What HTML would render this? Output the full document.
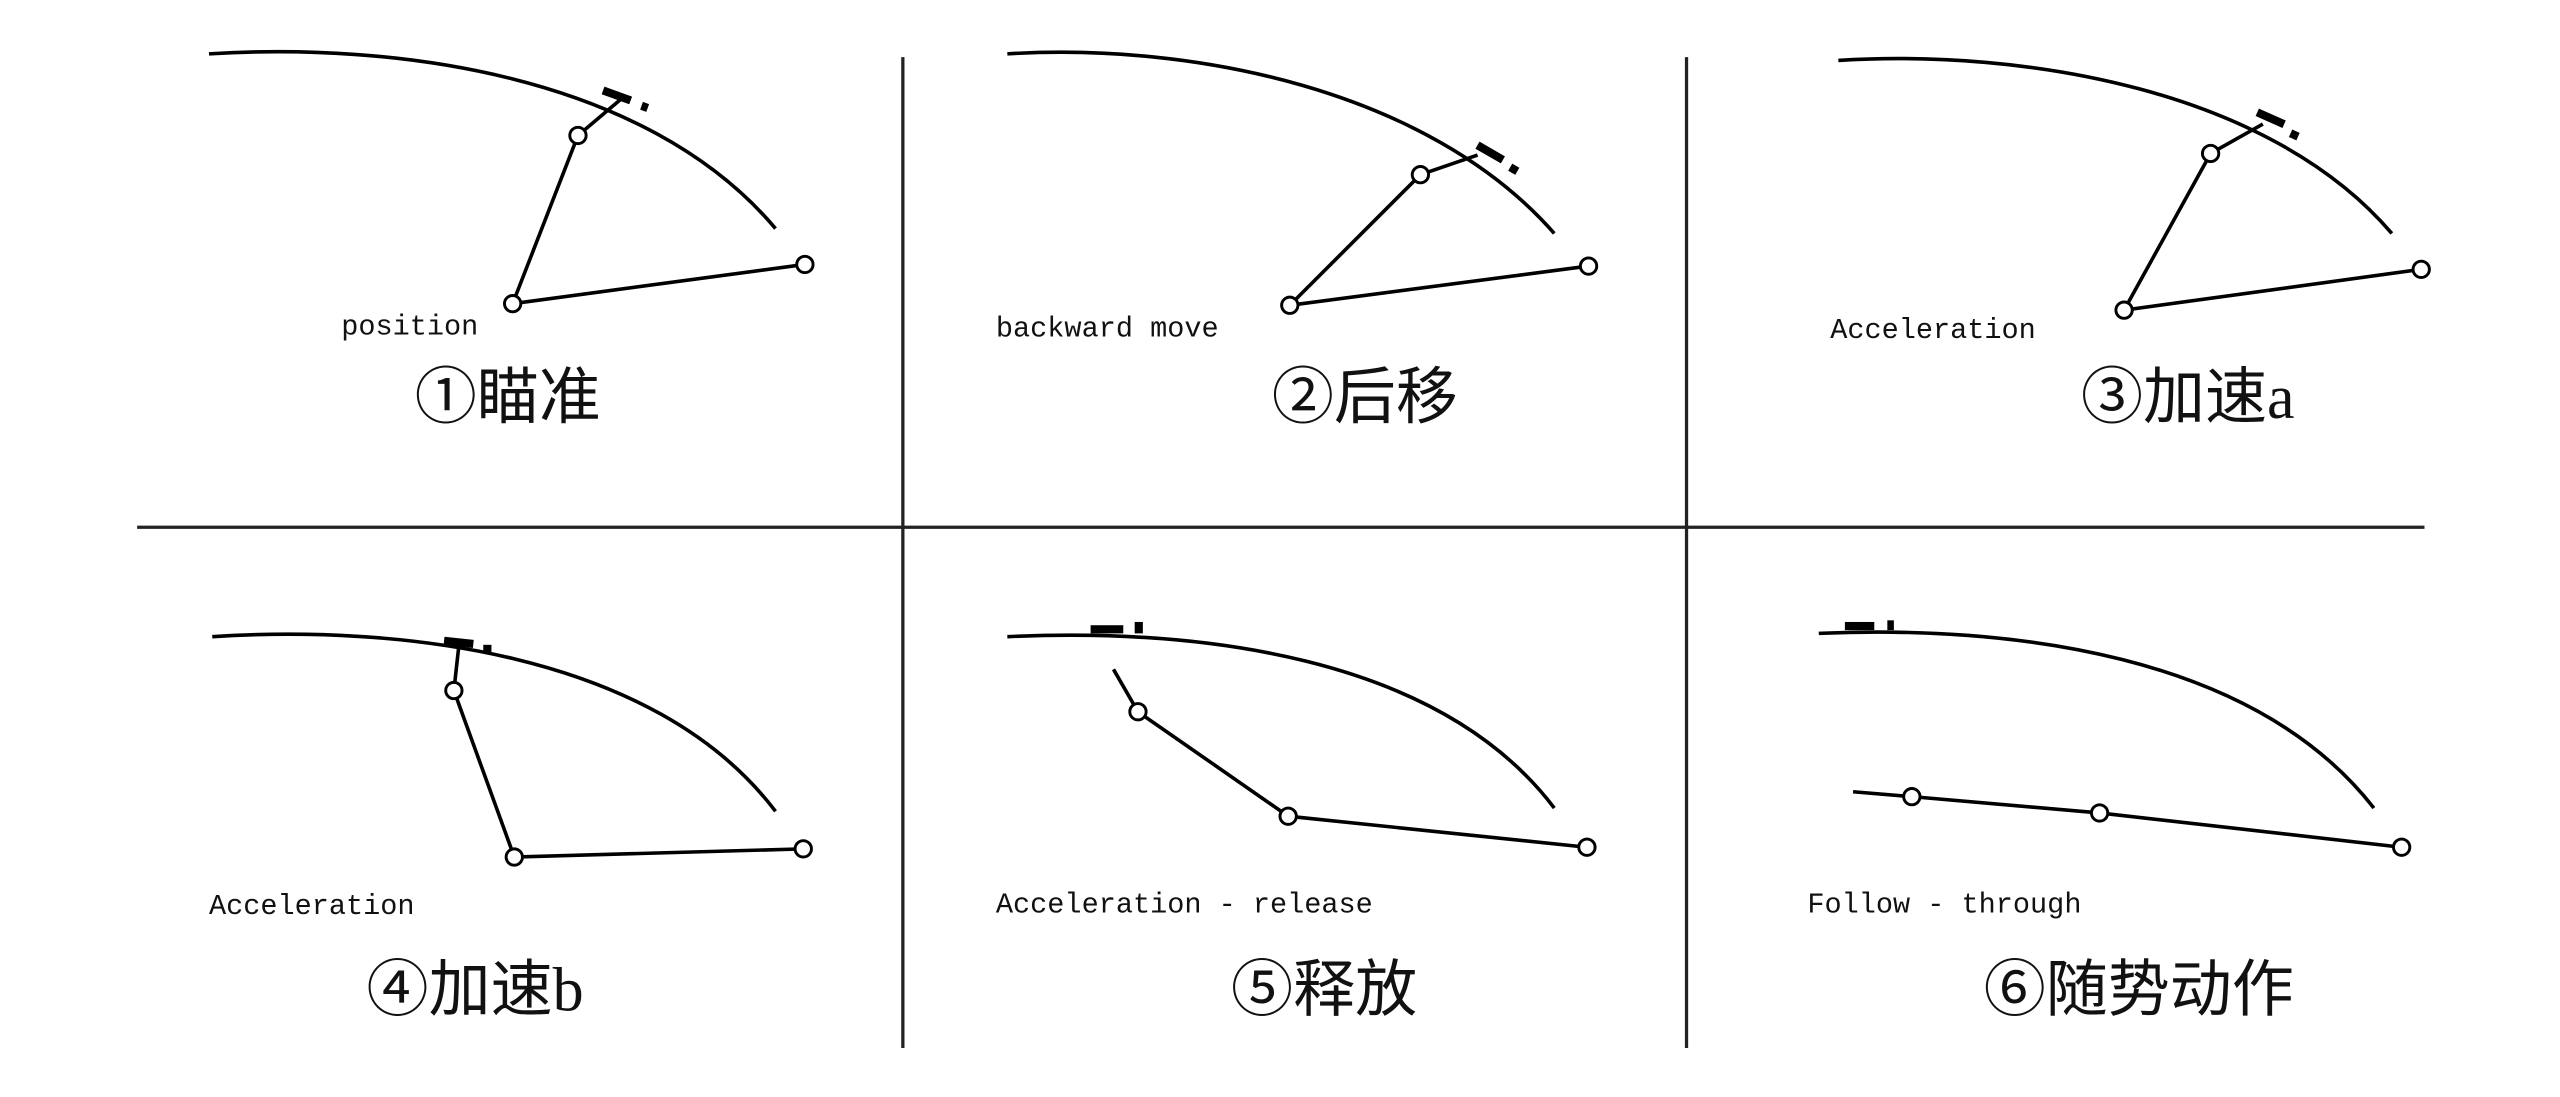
<!DOCTYPE html>
<html><head><meta charset="utf-8"><style>
html,body{margin:0;padding:0;background:#fff;}
svg{display:block;}
.m{font-family:"Liberation Mono","DejaVu Sans Mono",monospace;font-size:17.5px;fill:#111;}
.t{font-family:"Liberation Serif","Noto Sans CJK SC",serif;font-size:38px;fill:#111;text-anchor:middle;}
</style></head><body>
<svg width="2560" height="1097" viewBox="0 0 1568 672" preserveAspectRatio="none" xmlns="http://www.w3.org/2000/svg">
<rect width="1568" height="672" fill="#fff"/>
<g stroke="#222" stroke-width="2" fill="none">
<line x1="84" y1="323" x2="1485" y2="323"/>
<line x1="553" y1="35" x2="553" y2="642"/>
<line x1="1033" y1="35" x2="1033" y2="642"/>
</g>
<g stroke="#000" stroke-width="2.2" fill="none">
<path d="M128,33 C240,26 395,45 475,140"/>
<polyline points="380,61 354,83 314,186 493,162"/>
<path d="M617,33 C730,26 875,55 952,143"/>
<polyline points="905,95 870,107 790,187 973,163"/>
<path d="M1126,37 C1240,30 1390,55 1465,143"/>
<polyline points="1386,76 1354,94 1301,190 1483,165"/>
<path d="M130,390 C240,383 400,398 475,497"/>
<polyline points="281,396 278,423 315,525 492,520"/>
<path d="M617,390 C730,385 880,400 952,495"/>
<polyline points="682,410 697,436 789,500 972,519"/>
<path d="M1114,388 C1230,383 1380,400 1454,495"/>
<polyline points="1135,485 1171,488 1286,498 1471,519"/>
</g>
<g fill="#000">
<rect x="369" y="56" width="18" height="5" transform="rotate(20 378 58)"/>
<rect x="393" y="63" width="4" height="5" transform="rotate(20 395 65)"/>
<rect x="904" y="91" width="18" height="5" transform="rotate(30 913 93)"/>
<rect x="925" y="101" width="5" height="5" transform="rotate(30 927 103)"/>
<rect x="1382" y="70" width="18" height="5" transform="rotate(24 1391 72)"/>
<rect x="1403" y="80" width="5" height="5" transform="rotate(24 1405 82)"/>
<rect x="272" y="391" width="18" height="5" transform="rotate(6 281 393)"/>
<rect x="296" y="395" width="5" height="5"/>
<rect x="668" y="383" width="20" height="5"/>
<rect x="695" y="381" width="5" height="7"/>
<rect x="1130" y="381" width="18" height="5"/>
<rect x="1156" y="380" width="4" height="6"/>
</g>
<g fill="#fff" stroke="#000" stroke-width="1.8">
<circle cx="354" cy="83" r="5"/><circle cx="314" cy="186" r="5"/><circle cx="493" cy="162" r="5"/>
<circle cx="870" cy="107" r="5"/><circle cx="790" cy="187" r="5"/><circle cx="973" cy="163" r="5"/>
<circle cx="1354" cy="94" r="5"/><circle cx="1301" cy="190" r="5"/><circle cx="1483" cy="165" r="5"/>
<circle cx="278" cy="423" r="5"/><circle cx="315" cy="525" r="5"/><circle cx="492" cy="520" r="5"/>
<circle cx="697" cy="436" r="5"/><circle cx="789" cy="500" r="5"/><circle cx="972" cy="519" r="5"/>
<circle cx="1171" cy="488" r="5"/><circle cx="1286" cy="498" r="5"/><circle cx="1471" cy="519" r="5"/>
</g>
<text class="m" x="209" y="205">position</text>
<text class="m" x="610" y="206">backward move</text>
<text class="m" x="1121" y="207">Acceleration</text>
<text class="m" x="128" y="560">Acceleration</text>
<text class="m" x="610" y="559">Acceleration - release</text>
<text class="m" x="1107" y="559">Follow - through</text>
<text class="t" x="311" y="256">①瞄准</text>
<text class="t" x="836" y="256">②后移</text>
<text class="t" x="1340" y="256">③加速a</text>
<text class="t" x="291" y="619">④加速b</text>
<text class="t" x="811" y="619">⑤释放</text>
<text class="t" x="1310" y="619">⑥随势动作</text>
</svg>
</body></html>
